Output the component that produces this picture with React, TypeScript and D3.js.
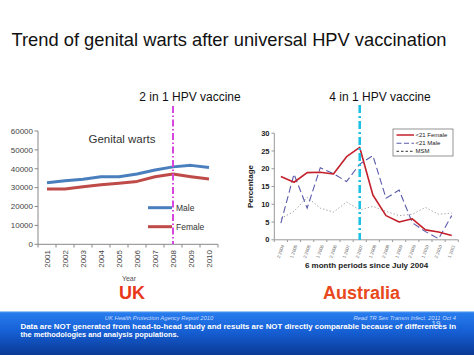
import React from "react";
import * as d3 from "d3";

const years = ["2001","2002","2003","2004","2005","2006","2007","2008","2009","2010"];
const ukMale = [32600,33700,34400,35800,35800,37200,39300,41000,41800,40700];
const ukFemale = [29300,29300,30500,31500,32300,33300,35800,37200,35800,34600];
const ukTicks = [0,10000,20000,30000,40000,50000,60000];

const periods = ["2 2004","1 2005","2 2005","1 2006","2 2006","1 2007","2 2007","1 2008","2 2008","1 2009","2 2009","1 2010","2 2010","1 2011"];
const auFemale = [17.8,16.2,18.9,19.0,18.5,23.4,26.0,12.6,6.8,5.0,5.9,2.8,2.2,1.2];
const auMale = [4.7,18.5,8.9,20.3,18.6,16.4,21.3,23.7,11.7,14.0,4.8,2.3,0.3,6.8];
const auMSM = [6.0,8.0,12.0,8.9,7.8,10.6,8.4,9.4,8.0,6.8,7.2,9.1,7.2,7.5];
const auTicks = [0,5,10,15,20,25,30];

const FONT = "'Liberation Sans', Arial, sans-serif";

export default function App() {
  // UK chart scales
  const ux = d3.scaleBand<string>().domain(years).range([38, 218]);
  const uy = d3.scaleLinear().domain([0, 60000]).range([244.3, 131]);
  const uline = d3.line<number>()
    .x((_, i) => (ux(years[i]) as number) + ux.bandwidth() / 2)
    .y((d) => uy(d));
  const vaccUK = (ux("2008") as number) + ux.bandwidth() / 2;

  // Australia chart scales
  const ax = d3.scaleBand<string>().domain(periods).range([274.3, 458.3]);
  const ay = d3.scaleLinear().domain([0, 30]).range([239.8, 133.2]);
  const aline = d3.line<number>()
    .x((_, i) => (ax(periods[i]) as number) + ax.bandwidth() / 2)
    .y((d) => ay(d));
  const vaccAU = (ax("2 2007") as number) + ax.bandwidth() / 2;

  const bandEdgesUK = years.map((y) => ux(y) as number).concat([218]);
  const bandEdgesAU = periods.map((p) => ax(p) as number).concat([458.3]);

  return (
    <svg width={474} height={355} style={{ position: "absolute", left: 0, top: 0, background: "#fff" }} fontFamily={FONT}>
      <defs>
        <linearGradient id="foot" x1="0" y1="0" x2="0" y2="1">
          <stop offset="0" stopColor="#2a7ff0" />
          <stop offset="0.45" stopColor="#1660d6" />
          <stop offset="1" stopColor="#0a3a96" />
        </linearGradient>
      </defs>
      <rect x={0} y={0} width={474} height={355} fill="#fff" />

      {/* Title */}
      <text x={11.5} y={46} fontSize={18.6} fill="#111" textLength={435} lengthAdjust="spacingAndGlyphs">Trend of genital warts after universal HPV vaccination</text>

      {/* ===== UK chart ===== */}
      <text x={190} y={101} fontSize={12} fill="#111" textAnchor="middle">2  in 1 HPV vaccine</text>
      {/* y axis */}
      <line x1={38} x2={38} y1={131} y2={244.3} stroke="#888" strokeWidth={1} />
      {ukTicks.map((t) => (
        <g key={t}>
          <line x1={34.5} x2={38} y1={uy(t)} y2={uy(t)} stroke="#888" />
          <text x={33} y={uy(t)} dy="0.35em" fontSize={8} fill="#444" textAnchor="end">{t}</text>
        </g>
      ))}
      {/* x axis */}
      <line x1={38} x2={218} y1={244.3} y2={244.3} stroke="#888" />
      {bandEdgesUK.map((e, i) => (
        <line key={i} x1={e} x2={e} y1={244.3} y2={247.5} stroke="#888" />
      ))}
      {years.map((y) => {
        const cx = (ux(y) as number) + ux.bandwidth() / 2;
        return (
          <text key={y} x={cx} y={250} dy="0.35em" fontSize={8} fill="#444" textAnchor="end" transform={`rotate(-90 ${cx} 250)`}>{y}</text>
        );
      })}
      <text x={129} y={281} fontSize={7} fill="#555" textAnchor="middle">Year</text>
      <text x={132} y={298.5} fontSize={18} fontWeight="bold" fill="#e8361a" textAnchor="middle">UK</text>
      <text x={122} y={143} fontSize={11.5} fill="#333" textAnchor="middle">Genital warts</text>
      {/* lines */}
      <path d={uline(ukMale) as string} fill="none" stroke="#4a7fbd" strokeWidth={3} strokeLinejoin="round" />
      <path d={uline(ukFemale) as string} fill="none" stroke="#be4b48" strokeWidth={3} strokeLinejoin="round" />
      {/* legend */}
      <line x1={148} x2={172} y1={207.7} y2={207.7} stroke="#4a7fbd" strokeWidth={3} />
      <text x={176} y={208} dy="0.35em" fontSize={8.5} fill="#333">Male</text>
      <line x1={148} x2={172} y1={226.7} y2={226.7} stroke="#be4b48" strokeWidth={3} />
      <text x={176} y={227} dy="0.35em" fontSize={8.5} fill="#333">Female</text>
      {/* vaccine line */}
      <line x1={vaccUK} x2={vaccUK} y1={106} y2={244} stroke="#d846e0" strokeWidth={2} strokeDasharray="7 2.5 1.5 2.5" />

      {/* ===== Australia chart ===== */}
      <text x={380} y={101} fontSize={12} fill="#111" textAnchor="middle">4  in 1 HPV vaccine</text>
      <line x1={274.3} x2={274.3} y1={133.2} y2={239.8} stroke="#999" />
      {auTicks.map((t) => (
        <g key={t}>
          <line x1={271.5} x2={274.3} y1={ay(t)} y2={ay(t)} stroke="#999" />
          <text x={269.5} y={ay(t)} dy="0.35em" fontSize={7.5} fontWeight="bold" fill="#222" textAnchor="end">{t}</text>
        </g>
      ))}
      <line x1={274.3} x2={458.3} y1={239.8} y2={239.8} stroke="#999" />
      {bandEdgesAU.map((e, i) => (
        <line key={i} x1={e} x2={e} y1={239.8} y2={242} stroke="#999" />
      ))}
      {periods.map((p) => {
        const cx = (ax(p) as number) + ax.bandwidth() / 2;
        return (
          <text key={p} x={cx + 2} y={245} dy="0.35em" fontSize={4.5} fill="#666" textAnchor="end" transform={`rotate(-70 ${cx + 2} 245)`}>{p}</text>
        );
      })}
      <text x={366.5} y={268} fontSize={8} fontWeight="bold" fill="#222" textAnchor="middle">6 month periods since July 2004</text>
      <text x={253} y={186.5} fontSize={8} fontWeight="bold" fill="#222" textAnchor="middle" transform="rotate(-90 253 186.5)">Percentage</text>
      <text x={361.5} y={298.5} fontSize={18} fontWeight="bold" fill="#e8481c" textAnchor="middle">Australia</text>

      <path d={aline(auMSM) as string} fill="none" stroke="#9a9a9a" strokeWidth={1} strokeDasharray="1.2 2.2" />
      <path d={aline(auMale) as string} fill="none" stroke="#5a5aaa" strokeWidth={1.1} strokeDasharray="7 3.5" />
      <path d={aline(auFemale) as string} fill="none" stroke="#c3202c" strokeWidth={1.6} strokeLinejoin="round" />

      {/* legend */}
      <rect x={393} y={129} width={60} height={27} fill="#fff" stroke="#666" strokeWidth={0.7} />
      <line x1={396.5} x2={414} y1={135} y2={135} stroke="#c3202c" strokeWidth={1.5} />
      <text x={415.5} y={135} dy="0.35em" fontSize={6} fill="#222">&lt;21 Female</text>
      <line x1={396.5} x2={414} y1={143.3} y2={143.3} stroke="#5a5aaa" strokeWidth={1.1} strokeDasharray="5 2.5" />
      <text x={415.5} y={143.3} dy="0.35em" fontSize={6} fill="#222">&lt;21 Male</text>
      <line x1={396.5} x2={414} y1={151.3} y2={151.3} stroke="#333" strokeWidth={1} strokeDasharray="2.5 2" />
      <text x={415.5} y={151.3} dy="0.35em" fontSize={6} fill="#222">MSM</text>

      <line x1={vaccAU} x2={vaccAU} y1={105} y2={240} stroke="#1cc0e4" strokeWidth={2.6} strokeDasharray="8 3 2 3" />

      {/* ===== Footer ===== */}
      <rect x={0} y={311} width={474} height={44} fill="url(#foot)" />
      <rect x={0} y={311} width={474} height={1.2} fill="#9cc4f5" />
      <text x={159} y={319.5} fontSize={5.8} fontStyle="italic" fill="#c8dcff" textAnchor="middle">UK Health Protection Agency Report 2010</text>
      <text x={456} y={319.5} fontSize={5.8} fontStyle="italic" fill="#c8dcff" textAnchor="end">Read TR Sex Transm Infect. 2011 Oct 4</text>
      <text x={436} y={326} fontSize={8} fill="#d8e6ff" textAnchor="middle">19</text>
      <text x={20.5} y={328.5} fontSize={7.4} fontWeight="bold" fill="#fff" textLength={435.5} lengthAdjust="spacingAndGlyphs">Data are NOT generated from head-to-head study and results are NOT directly comparable because of differences in</text>
      <text x={20.5} y={337} fontSize={7.4} fontWeight="bold" fill="#fff">the methodologies and analysis populations.</text>
    </svg>
  );
}
